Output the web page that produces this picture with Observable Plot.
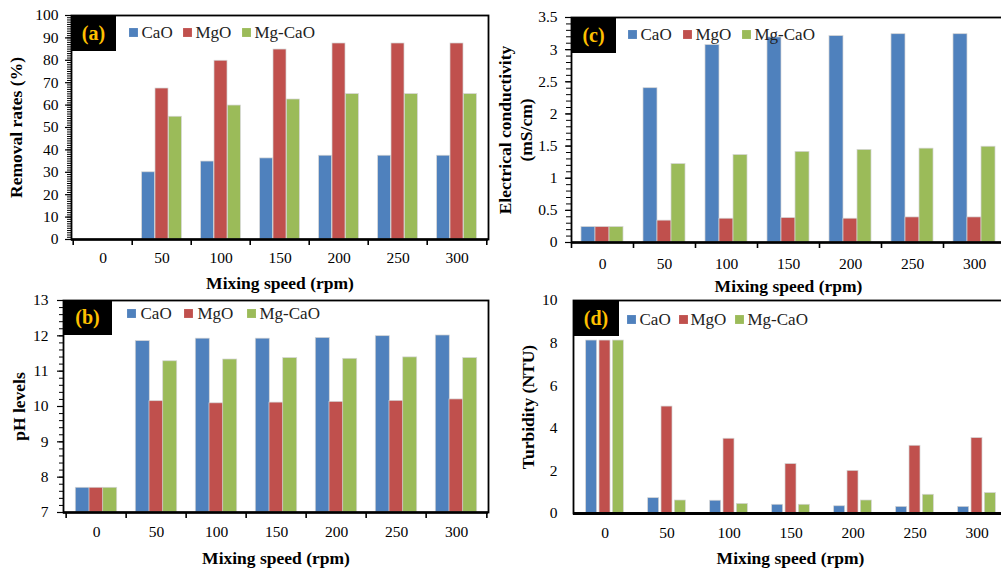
<!DOCTYPE html>
<html><head><meta charset="utf-8">
<script src="https://cdn.jsdelivr.net/npm/d3@7"></script>
<script src="https://cdn.jsdelivr.net/npm/@observablehq/plot@0.6"></script>
<style>
html,body{margin:0;padding:0;overflow:hidden;background:#fff;width:1001px;height:570px;}
#root{position:relative;width:1001px;height:570px;overflow:hidden;background:#fff;}
.panel{position:absolute;}
.panel svg{max-width:none !important;overflow:visible;}
.tag{position:absolute;background:#000;color:#FFC000;font:bold 20px "Liberation Serif","Times New Roman",serif;display:flex;align-items:center;justify-content:center;}
</style></head><body><div id="root"></div>
<script>
// ---- data ----
const speeds = ["0", "50", "100", "150", "200", "250", "300"];
const series = ["CaO", "MgO", "Mg-CaO"];
const colors = ["#4F81BD", "#C0504D", "#9BBB59"];

const removalCaO   = [0, 30.0, 34.8, 36.2, 37.4, 37.4, 37.4];
const removalMgO   = [0, 67.4, 79.8, 84.8, 87.5, 87.5, 87.5];
const removalMgCaO = [0, 54.8, 59.8, 62.5, 64.9, 64.9, 64.9];

const phCaO   = [7.70, 11.85, 11.92, 11.92, 11.94, 11.99, 12.01];
const phMgO   = [7.70, 10.15, 10.09, 10.11, 10.13, 10.16, 10.20];
const phMgCaO = [7.70, 11.28, 11.33, 11.37, 11.35, 11.39, 11.37];

const ecCaO   = [0.24, 2.40, 3.07, 3.19, 3.21, 3.24, 3.24];
const ecMgO   = [0.24, 0.34, 0.37, 0.38, 0.37, 0.39, 0.39];
const ecMgCaO = [0.24, 1.22, 1.36, 1.41, 1.44, 1.46, 1.49];

const turbCaO   = [8.12, 0.72, 0.60, 0.41, 0.34, 0.31, 0.31];
const turbMgO   = [8.12, 5.02, 3.51, 2.32, 2.00, 3.18, 3.54];
const turbMgCaO = [8.12, 0.61, 0.45, 0.41, 0.61, 0.88, 0.96];

const removalTicks = d3.range(0, 101, 10);
const phTicks = [7, 8, 9, 10, 11, 12, 13];
const ecTicks = [0, 0.5, 1, 1.5, 2, 2.5, 3, 3.5];
const turbTicks = [0, 2, 4, 6, 8, 10];

const xTitle = "Mixing speed (rpm)";

// ---- drawing ----
const root = document.getElementById("root");

function makePanel(c) {
  const step = (c.width - c.ml - c.mr) / speeds.length;
  const pitch = c.pitchFrac * step;
  const p = 1 - c.barFrac;
  const frameH = c.height - c.mt - c.mb;
  const marks = [];
  series.forEach((name, k) => {
    const d = speeds.map((s, i) => ({speed: s, value: c.vals[k][i]}));
    marks.push(Plot.barY(d, {x: "speed", y1: c.domain[0], y2: "value", fill: colors[k],
      stroke: "#d4d4d4", strokeWidth: 0.7, dx: (k - 1) * pitch}));
  });
  marks.push(Plot.frame({stroke: "black", strokeWidth: 1.8}));
  marks.push(Plot.ruleY([c.domain[0]], {stroke: "black", strokeWidth: c.bottomWidth}));
  if (c.boundary) {
    marks.push(Plot.ruleX(speeds, {x: d => d, dx: -step / 2, insetTop: frameH, insetBottom: -6, stroke: "black", strokeWidth: 1.6}));
    marks.push(Plot.ruleX([speeds[speeds.length - 1]], {x: d => d, dx: step / 2, insetTop: frameH, insetBottom: -6, stroke: "black", strokeWidth: 1.6}));
  }
  marks.push(Plot.axisX({tickSize: 0, tickPadding: c.xPad, label: null}));
  marks.push(Plot.axisY({ticks: c.ticks, tickSize: c.tickSize, tickPadding: c.tickPadding,
    tickFormat: d => String(d), label: null, strokeWidth: 1.2}));
  if (c.minor) {
    marks.push(Plot.axisY({ticks: c.minor, tickSize: c.minorSize, tickFormat: () => "", label: null, strokeWidth: 1}));
  }
  // legend
  series.forEach((name, k) => {
    marks.push(Plot.dot([name], {frameAnchor: "top-left", dx: c.legSw[k], dy: c.legDy, symbol: "square", r: 5, fill: colors[k]}));
    marks.push(Plot.text([name], {frameAnchor: "top-left", dx: c.legTx[k], dy: c.legDy, text: d => d,
      textAnchor: "start", lineAnchor: "middle", fontSize: 17, fill: "#222"}));
  });
  // titles
  marks.push(Plot.text([c.yTitle], {frameAnchor: "left", dx: c.yTitleDx, rotate: -90, text: d => d,
    textAnchor: "middle", lineAnchor: "middle", fontWeight: "bold", fontSize: 17.5, lineHeight: 1.2}));
  marks.push(Plot.text([xTitle], {frameAnchor: "bottom", dy: c.xTitleDy, text: d => d,
    textAnchor: "middle", lineAnchor: "middle", fontWeight: "bold", fontSize: 17.5}));

  const svg = Plot.plot({
    width: c.width, height: c.height,
    marginTop: c.mt, marginRight: c.mr, marginBottom: c.mb, marginLeft: c.ml,
    style: {fontFamily: '"Liberation Serif", "Times New Roman", serif', fontSize: "15.5px", background: "none", overflow: "visible", color: "#000"},
    x: {type: "band", domain: speeds, paddingInner: p, paddingOuter: p / 2},
    y: {domain: c.domain},
    marks
  });
  const div = document.createElement("div");
  div.className = "panel";
  div.style.left = c.left + "px";
  div.style.top = c.top + "px";
  div.style.width = c.width + "px";
  div.style.height = c.height + "px";
  div.appendChild(svg);
  root.appendChild(div);

  const tag = document.createElement("div");
  tag.className = "tag";
  tag.textContent = c.tag;
  tag.style.left = (c.left + c.ml) + "px";
  tag.style.top = (c.top + c.mt) + "px";
  tag.style.width = c.tagW + "px";
  tag.style.height = c.tagH + "px";
  root.appendChild(tag);
}

// (a)
makePanel({left: 0, top: 0, width: 500, height: 292, mt: 15, mr: 12, mb: 53, ml: 71,
  vals: [removalCaO, removalMgO, removalMgCaO], domain: [0, 100], ticks: removalTicks,
  minor: d3.range(0, 101, 1), tickSize: 6, minorSize: 4, tickPadding: 7, bottomWidth: 2.5,
  barFrac: 0.224, pitchFrac: 0.224, boundary: true, xPad: 12,
  legSw: [62, 116, 175], legTx: [70, 124, 183], legDy: 17,
  yTitle: "Removal rates (%)", yTitleDx: -56, xTitleDy: 44, tag: "(a)", tagW: 45, tagH: 36});

// (c)
makePanel({left: 495, top: 0, width: 520, height: 292, mt: 17, mr: 10, mb: 50, ml: 76,
  vals: [ecCaO, ecMgO, ecMgCaO], domain: [0, 3.5], ticks: ecTicks,
  minor: d3.range(0, 35.5, 1).map(d => d / 10), tickSize: 6, minorSize: 5, tickPadding: 8, bottomWidth: 2.5,
  barFrac: 0.226, pitchFrac: 0.226, boundary: true, xPad: 15,
  legSw: [61, 116, 175], legTx: [69, 124, 183], legDy: 17,
  yTitle: "Electrical conductivity\n(mS/cm)", yTitleDx: -57, xTitleDy: 44, tag: "(c)", tagW: 45, tagH: 36});

// (b)
makePanel({left: 0, top: 285, width: 500, height: 285, mt: 15, mr: 12, mb: 58, ml: 63,
  vals: [phCaO, phMgO, phMgCaO], domain: [7, 13], ticks: phTicks,
  minor: d3.range(35, 65.5, 1).map(d => d / 5), tickSize: 6, minorSize: 4, tickPadding: 9, bottomWidth: 2.5,
  barFrac: 0.226, pitchFrac: 0.226, boundary: true, xPad: 13,
  legSw: [68, 125, 188], legTx: [77, 134, 196], legDy: 13,
  yTitle: "pH levels", yTitleDx: -45, xTitleDy: 46, tag: "(b)", tagW: 49, tagH: 35});

// (d)
makePanel({left: 495, top: 285, width: 520, height: 285, mt: 15, mr: 8, mb: 57, ml: 78,
  vals: [turbCaO, turbMgO, turbMgCaO], domain: [0, 10], ticks: turbTicks,
  minor: null, tickSize: 0, minorSize: 0, tickPadding: 16, bottomWidth: 3.2,
  barFrac: 0.173, pitchFrac: 0.215, boundary: false, xPad: 13,
  legSw: [58, 110, 166], legTx: [66, 117, 174], legDy: 19,
  yTitle: "Turbidity (NTU)", yTitleDx: -46, xTitleDy: 45, tag: "(d)", tagW: 46, tagH: 36});
</script>
</body></html>
